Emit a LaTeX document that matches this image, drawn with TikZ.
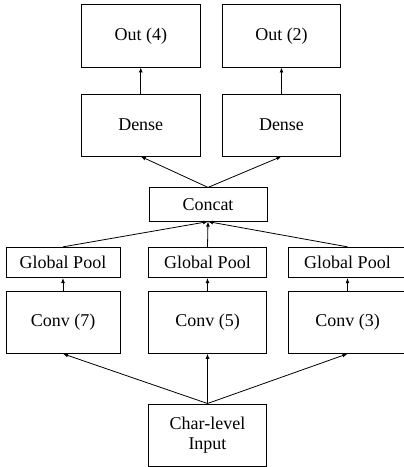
\documentclass[tikz,border=0pt]{standalone}
\usepackage{fontspec}
\setmainfont{Liberation Serif}
\usetikzlibrary{arrows.meta}
\begin{document}
\begin{tikzpicture}[x=1pt,y=-1pt,
  box/.style={draw=black,line width=0.9pt,inner sep=0pt,align=center,
    font=\fontsize{18}{20}\selectfont},
  arr/.style={-{Latex[length=5pt,width=4pt]},line width=0.8pt}]
\useasboundingbox (0,0) rectangle (404,467);
\node[box,minimum width=118.5,minimum height=62.5] (out4) at (140.75,35.75) {Out (4)};
\node[box,minimum width=118.5,minimum height=62.5] (out2) at (281.5,35.75) {Out (2)};
\node[box,minimum width=118.5,minimum height=62] (dense1) at (140.75,125) {Dense};
\node[box,minimum width=118.5,minimum height=62] (dense2) at (281.5,125) {Dense};
\node[box,minimum width=118,minimum height=33.3] (concat) at (208,204.5) {Concat};
\node[box,minimum width=114,minimum height=30.4] (gp1) at (63,262.5) {Global Pool};
\node[box,minimum width=118.4,minimum height=30.4] (gp2) at (207.5,262.5) {Global Pool};
\node[box,minimum width=118.4,minimum height=30.4] (gp3) at (347.5,262.5) {Global Pool};
\node[box,minimum width=114,minimum height=62.3] (conv1) at (63,322.2) {Conv (7)};
\node[box,minimum width=118.4,minimum height=62.3] (conv2) at (207.5,322.2) {Conv (5)};
\node[box,minimum width=118.4,minimum height=62.3] (conv3) at (347.5,322.2) {Conv (3)};
\node[box,minimum width=118.4,minimum height=62.7] (input) at (207.5,435.3) {Char-level\\Input};
\draw[arr] (dense1) -- (out4);
\draw[arr] (dense2) -- (out2);
\draw[arr] (concat.north) -- (dense1.south);
\draw[arr] (concat.north) -- (dense2.south);
\draw[arr] (gp1.north) -- (concat.south);
\draw[arr] (gp2.north) -- (concat.south);
\draw[arr] (gp3.north) -- (concat.south);
\draw[arr] (conv1) -- (gp1);
\draw[arr] (conv2) -- (gp2);
\draw[arr] (conv3) -- (gp3);
\draw[arr] (input.north) -- (conv1.south);
\draw[arr] (input.north) -- (conv2.south);
\draw[arr] (input.north) -- (conv3.south);
\end{tikzpicture}
\end{document}
